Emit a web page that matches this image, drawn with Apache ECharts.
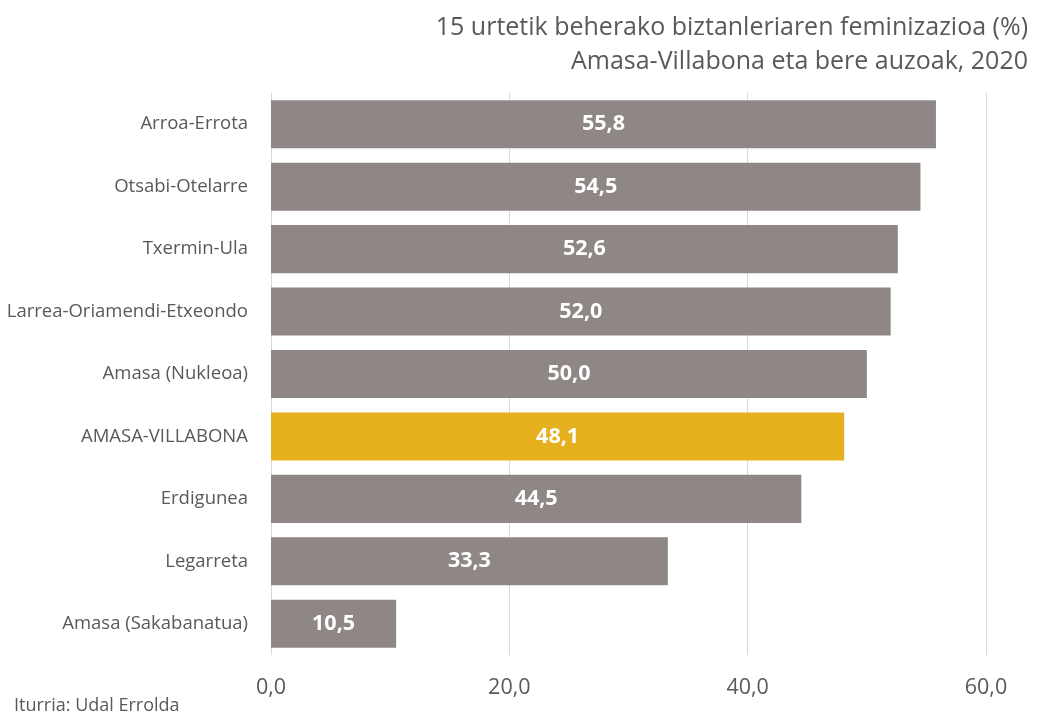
<!DOCTYPE html>
<html><head><meta charset="utf-8">
<script src="https://cdn.jsdelivr.net/npm/echarts@6/dist/echarts.min.js"></script>
<style>html,body{margin:0;padding:0;background:#fff}#c{width:1038px;height:715px}</style>
</head><body><div id="c"></div>
<script>
const categories = ["Arroa-Errota","Otsabi-Otelarre","Txermin-Ula","Larrea-Oriamendi-Etxeondo","Amasa (Nukleoa)","AMASA-VILLABONA","Erdigunea","Legarreta","Amasa (Sakabanatua)"];
const values = [55.8,54.5,52.6,52.0,50.0,48.1,44.5,33.3,10.5];
const highlight = "AMASA-VILLABONA";
const titleLines = ["15 urtetik beherako biztanleriaren feminizazioa (%)","Amasa-Villabona eta bere auzoak, 2020"];
const sourceText = "Iturria: Udal Errolda";

const FONT = "Open Sans";
const chart = echarts.init(document.getElementById('c'));
chart.setOption({
  animation:false,
  textStyle:{fontFamily:FONT},
  title:[{
    text:titleLines[0], right:5, top:10,
    textStyle:{fontFamily:FONT,fontSize:25,fontWeight:'normal',color:'#595959'}
  },{
    text:titleLines[1], right:5, top:44,
    textStyle:{fontFamily:FONT,fontSize:25,fontWeight:'normal',color:'#595959'}
  },{
    text:sourceText, left:9, top:692,
    textStyle:{fontFamily:FONT,fontSize:18,fontWeight:'normal',color:'#595959'}
  }],
  grid:{left:271,right:52,top:93,bottom:60,containLabel:false},
  xAxis:{type:'value',min:0,max:60,interval:20,
    axisLabel:{formatter:v=>v.toFixed(1).replace('.',','),fontSize:21.5,color:'#595959',margin:22,fontFamily:FONT},
    axisLine:{show:false},axisTick:{show:false},
    splitLine:{lineStyle:{color:'#D9D9D9',width:1}}},
  yAxis:{type:'category',data:categories,inverse:true,
    axisLabel:{fontSize:18.5,color:'#595959',margin:23,fontFamily:FONT},
    axisLine:{show:false},axisTick:{show:false}},
  series:[{type:'bar',barCategoryGap:'23%',
    data:values.map((v,i)=>({value:v,itemStyle:{color:categories[i]===highlight?'#E6AF1E':'#8F8786'}})),
    label:{show:true,position:'inside',color:'#fff',fontWeight:'bold',fontSize:21.5,fontFamily:FONT,
      formatter:p=>p.value.toFixed(1).replace('.',',')}
  }]
});
</script></body></html>
